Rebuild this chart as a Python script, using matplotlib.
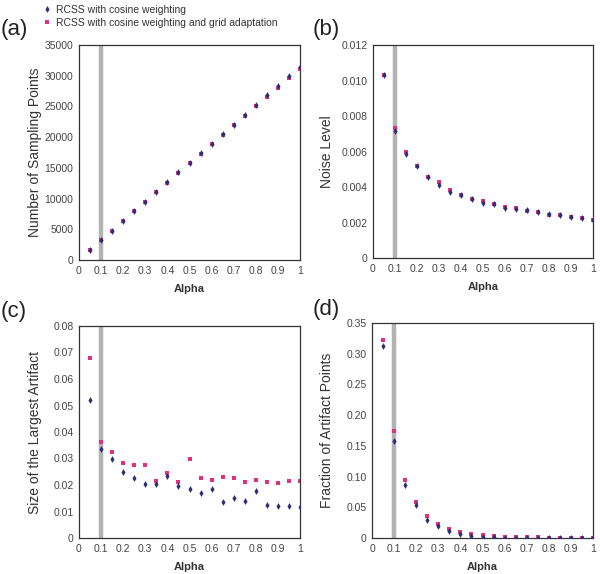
import matplotlib
matplotlib.use("Agg")
import matplotlib.pyplot as plt
from matplotlib.lines import Line2D

plt.rcParams['font.family'] = ['Liberation Sans', 'DejaVu Sans']

alpha = [0.05, 0.10, 0.15, 0.20, 0.25, 0.30, 0.35, 0.40, 0.45, 0.50,
         0.55, 0.60, 0.65, 0.70, 0.75, 0.80, 0.85, 0.90, 0.95, 1.00]

# (a) number of sampling points
pts_cos = [1650, 3300, 4800, 6350, 7950, 9500, 11100, 12650, 14250, 15850,
           17350, 18900, 20450, 22050, 23650, 25200, 26800, 28350, 29900, 31400]
pts_grid = [1600, 3200, 4750, 6300, 7900, 9450, 11050, 12600, 14200, 15750,
            17300, 18850, 20400, 21950, 23500, 25050, 26600, 28050, 29600, 31100]

# (b) noise level
noise_cos = [0.01031, 0.00718, 0.00588, 0.00517, 0.00457, 0.00410, 0.00374, 0.00354, 0.00331, 0.00311,
             0.00303, 0.00284, 0.00278, 0.00273, 0.00257, 0.00248, 0.00243, 0.00231, 0.00223, 0.00214]
noise_grid = [0.01033, 0.00735, 0.00600, 0.00519, 0.00459, 0.00426, 0.00384, 0.00356, 0.00333, 0.00320,
              0.00304, 0.00288, 0.00280, 0.00265, 0.00257, 0.00243, 0.00242, 0.00231, 0.00223, 0.00216]

# (c) size of the largest artifact
art_cos = [0.0520, 0.0334, 0.0300, 0.0250, 0.0227, 0.0205, 0.0205, 0.0235, 0.0195, 0.0186,
           0.0170, 0.0186, 0.0137, 0.0151, 0.0141, 0.0176, 0.0124, 0.0120, 0.0120, 0.0116]
art_grid = [0.0679, 0.0364, 0.0324, 0.0284, 0.0276, 0.0274, 0.0216, 0.0247, 0.0210, 0.0299,
            0.0225, 0.0220, 0.0231, 0.0227, 0.0212, 0.0219, 0.0210, 0.0208, 0.0214, 0.0216]

# (d) fraction of artifact points
frac_cos = [0.313, 0.158, 0.087, 0.053, 0.029, 0.020, 0.0114, 0.0070, 0.0033, 0.0016,
            0.0010, 0.0008, 0.0006, 0.0005, 0.0004, 0.0003, 0.0003, 0.0002, 0.0002, 0.0002]
frac_grid = [0.3228, 0.1747, 0.0942, 0.0582, 0.0365, 0.0234, 0.0147, 0.0103, 0.0065, 0.0044,
             0.0027, 0.0022, 0.0016, 0.0016, 0.0010, 0.0008, 0.0008, 0.0008, 0.0008, 0.0008]

BLUE = '#2b2f7a'
PINK = '#e2307f'
TXT = '#333333'

fig = plt.figure(figsize=(6.0, 5.74), dpi=100)
W, H = 600, 574

def px_axes(l, t, r, b):
    return fig.add_axes([l / W, 1 - b / H, (r - l) / W, (b - t) / H])

panels = [
    # box (px), ylabel, ymax, yticks, formatter, series, tag, tag pos, ylabel x
    ((79, 45, 300, 260), 'Number of Sampling Points', 35000,
     [0, 5000, 10000, 15000, 20000, 25000, 30000, 35000],
     lambda v: '%d' % v, pts_cos, pts_grid, '(a)', (1, 29), 35),
    ((373, 45, 593, 258), 'Noise Level', 0.012,
     [0, 0.002, 0.004, 0.006, 0.008, 0.010, 0.012],
     lambda v: '0' if v == 0 else '%.3f' % v, noise_cos, noise_grid, '(b)', (313, 29), 327),
    ((79, 326, 300, 538), 'Size of the Largest Artifact', 0.08,
     [0, 0.01, 0.02, 0.03, 0.04, 0.05, 0.06, 0.07, 0.08],
     lambda v: '0' if v == 0 else '%.2f' % v, art_cos, art_grid, '(c)', (1, 312), 35),
    ((372, 323, 593, 538), 'Fraction of Artifact Points', 0.35,
     [0, 0.05, 0.10, 0.15, 0.20, 0.25, 0.30, 0.35],
     lambda v: '0' if v == 0 else '%.2f' % v, frac_cos, frac_grid, '(d)', (313, 310), 327),
]

xt = [0, 0.1, 0.2, 0.3, 0.4, 0.5, 0.6, 0.7, 0.8, 0.9, 1.0]
xlab = ['0', '0.1', '0.2', '0.3', '0.4', '0.5', '0.6', '0.7', '0.8', '0.9', '1']

for box, ylab, ymax, yt, yfmt, s_cos, s_grid, tag, tagpos, ylx in panels:
    ax = px_axes(*box)
    ax.axvline(0.1, color='#b3b3b3', lw=3.2, zorder=1)
    ax.scatter(alpha, s_cos, marker='d', s=12, color=BLUE, lw=0, zorder=3)
    ax.scatter(alpha, s_grid, marker='s', s=10, color=PINK, lw=0, zorder=2)
    ax.set_xlim(0, 1)
    ax.set_ylim(0, ymax)
    ax.set_xticks(xt)
    ax.set_xticklabels(xlab)
    ax.set_yticks(yt)
    ax.set_yticklabels([yfmt(v) for v in yt])
    ax.tick_params(length=0, labelsize=7.5, labelcolor='#444444', pad=4)
    for sp in ax.spines.values():
        sp.set_color('#333333')
        sp.set_linewidth(0.9)
    ax.set_xlabel('Alpha', fontsize=8, fontweight='bold', color=TXT, labelpad=6)
    fig.text(ylx / W, 1 - ((box[1] + box[3]) / 2) / H, ylab, rotation=90,
             ha='center', va='center', fontsize=10, color=TXT)
    fig.text(tagpos[0] / W, 1 - tagpos[1] / H, tag, ha='left', va='center',
             fontsize=16, color='#222222')

handles = [
    Line2D([], [], ls='none', marker='d', ms=3.5, color=BLUE, mew=0),
    Line2D([], [], ls='none', marker='s', ms=3, color=PINK, mew=0),
]
fig.legend(handles, ['RCSS with cosine weighting',
                     'RCSS with cosine weighting and grid adaptation'],
           loc='upper left', bbox_to_anchor=(44 / W, 1 - 5 / H), frameon=False,
           fontsize=7.5, handlelength=0.6, handletextpad=0.6, labelspacing=0.3,
           borderaxespad=0, borderpad=0, labelcolor=TXT)

fig.savefig('out.png', dpi=100)
